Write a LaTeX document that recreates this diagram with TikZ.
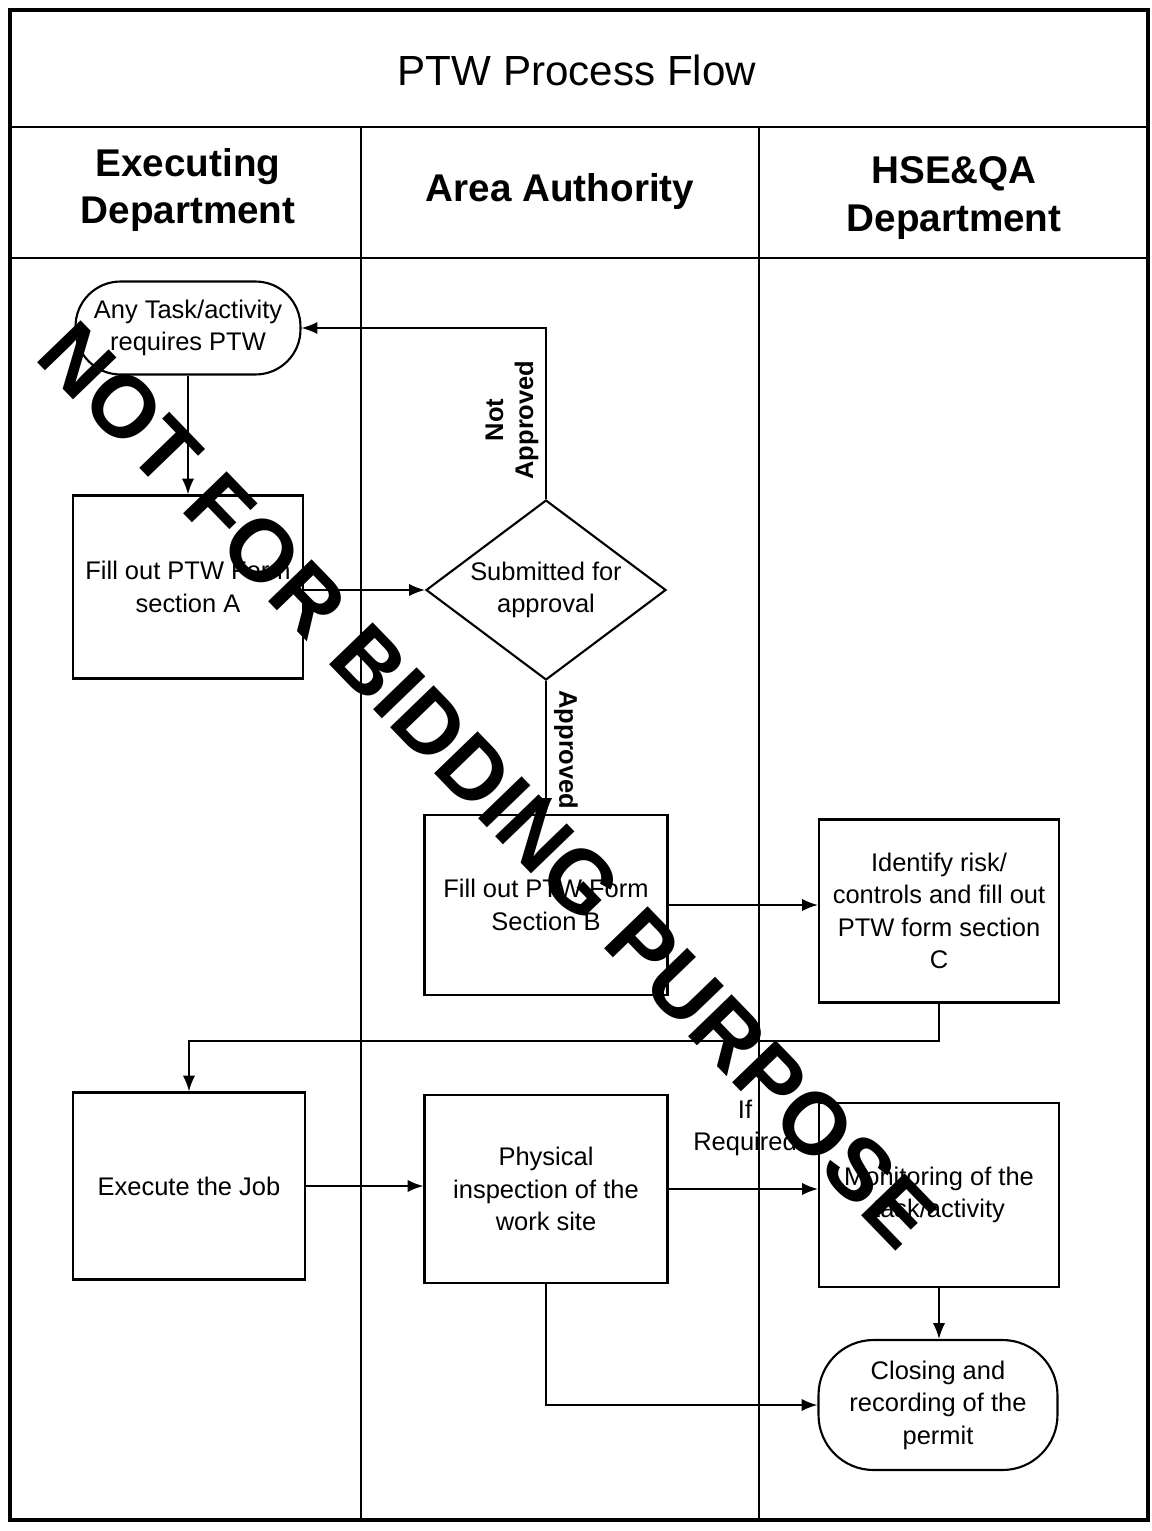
\documentclass[tikz,border=0pt]{standalone}
\usepackage{fontspec}
\setmainfont{Liberation Sans}
\usetikzlibrary{shapes.geometric,arrows.meta,positioning,calc}
\newcommand{\ptwboxfont}{\fontsize{14.5}{18.5}\selectfont}
\newcommand{\ptwheadfont}{\fontsize{22}{27}\selectfont\bfseries}

\tikzset{
  procbox/.style={draw, line width=1.2pt, align=center, inner sep=2pt, font=\ptwboxfont},
  startstop/.style={procbox, rounded corners=0.9cm},
  decision/.style={draw, diamond, line width=1.2pt, align=center, inner sep=0pt,
    aspect=1.33, minimum width=4.8cm, minimum height=3.6cm, font=\ptwboxfont},
  flow/.style={line width=1.1pt, -{Latex[length=9pt,width=7pt]}},
  flowlabel/.style={align=center, inner sep=1pt, font=\fontsize{14.5}{17}\selectfont\bfseries},
  lane/.style={line width=0.8pt},
  watermark/.style={inner sep=0pt, font=\fontsize{50}{50}\selectfont\bfseries}
}

\begin{document}
\begin{tikzpicture}[x=0.02cm, y=-0.02cm]
  \useasboundingbox (0,0) rectangle (1152,1531);

  % Frame and lanes
  \draw[line width=1.8pt] (10,10) rectangle (1148,1520);
  \draw[line width=1.6pt] (10,127) -- (1148,127);
  \draw[line width=1.6pt] (10,258) -- (1148,258);
  \draw[lane] (361,127) -- (361,1520);
  \draw[lane] (759,127) -- (759,1520);

  % Headings
  \node[font=\fontsize{24}{28}\selectfont] (title) at (577,70) {PTW Process Flow};
  \node[font=\ptwheadfont, align=center] (laneexec) at (188,190) {Executing\\Department};
  \node[font=\ptwheadfont, align=center] (laneauth) at (560,192) {Area Authority};
  \node[font=\ptwheadfont, align=center] (lanehse) at (954,198) {HSE\&QA\\Department};

  % Executing department
  \node[startstop, minimum width=4.5cm, minimum height=1.86cm] (task) at (188,328) {Any Task/activity\\requires PTW};
  \node[procbox, minimum width=4.6cm, minimum height=3.66cm] (formA) at (188,587) {Fill out PTW Form\\section A};
  \node[procbox, minimum width=4.64cm, minimum height=3.74cm] (execjob) at (189,1186) {Execute the Job};

  % Area authority
  \node[decision] (submit) at (546,590) {Submitted for\\approval};
  \node[procbox, minimum width=4.86cm, minimum height=3.6cm] (formB) at (546,905) {Fill out PTW Form\\Section B};
  \node[procbox, minimum width=4.86cm, minimum height=3.76cm] (inspect) at (546,1189) {Physical\\inspection of the\\work site};

  % HSE&QA department
  \node[procbox, minimum width=4.8cm, minimum height=3.66cm] (riskC) at (939,911) {Identify risk/\\controls and fill out\\PTW form section\\C};
  \node[procbox, minimum width=4.8cm, minimum height=3.68cm] (monitor) at (939,1195) {Monitoring of the\\task/activity};
  \node[startstop, rounded corners=1.1cm, minimum width=4.78cm, minimum height=2.6cm] (closing) at (938,1405) {Closing and\\recording of the\\permit};

  % Connectors
  \draw[flow] (task) -- (formA);
  \draw[flow] (formA.east |- submit.west) -- (submit.west);
  \draw[flow] (submit.north) |- (task.east);
  \node[flowlabel, rotate=90] (notok) at (512,420) {Not\\Approved};
  \draw[flow] (submit.south) -- (submit.south |- formB.north);
  \node[flowlabel, rotate=-90] (okay) at (566,750) {Approved};
  \draw[flow] (formB.east) -- (formB.east -| riskC.west);
  \draw[flow] (riskC.south) -- ++(0,37) -| (execjob.north);
  \draw[flow] (execjob.east) -- (execjob.east -| inspect.west);
  \draw[flow] (inspect.east) -- (inspect.east -| monitor.west);
  \node[flowlabel, font=\ptwboxfont] (ifreq) at (745,1128) {If\\Required};
  \draw[flow] (monitor.south) -- (monitor.south |- closing.north);
  \draw[flow] (inspect.south) |- (closing.west);

  % Stamp
  \node[watermark, rotate=-46] (stamp) at (488,785) {NOT FOR BIDDING PURPOSE};
\end{tikzpicture}
\end{document}
